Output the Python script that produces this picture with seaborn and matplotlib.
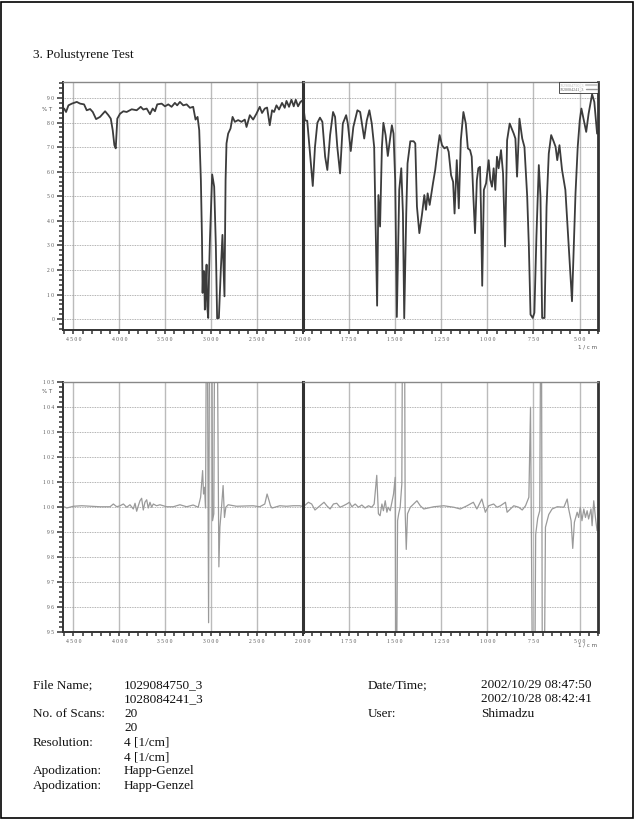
import matplotlib
matplotlib.use("Agg")
import matplotlib.pyplot as plt
from matplotlib.lines import Line2D
from matplotlib.patches import Rectangle
from matplotlib.ticker import FixedLocator, MultipleLocator, FuncFormatter
import seaborn as sns

title = "3. Polustyrene Test"
sample_names = ["1029084750_3", "1028084241_3"]

# upper trace: sample spectrum (%T vs 1/cm)
upper_wn = [4601, 4580, 4554, 4517, 4463, 4427, 4384, 4355, 4318, 4289, 4253, 4210, 4155, 4119,
            4093, 4072, 4054, 4039, 4022, 3992, 3956, 3920, 3865, 3811, 3767, 3739, 3702, 3666,
            3637, 3612, 3587, 3539, 3503, 3467, 3431, 3395, 3370, 3340, 3304, 3267, 3231, 3196,
            3170, 3148, 3130, 3112, 3100, 3093, 3087, 3076, 3069, 3061, 3050, 3043, 3032, 3022,
            3014, 2989, 2967, 2949, 2935, 2916, 2895, 2877, 2855, 2843, 2833, 2815, 2789, 2767,
            2742, 2706, 2670, 2634, 2615, 2579, 2543, 2507, 2471, 2446, 2416, 2391, 2362, 2337,
            2315, 2289, 2261, 2228, 2199, 2180, 2152, 2126, 2101, 2079, 2054, 2028, 2007, 2000,
            1998, 1989, 1977, 1962, 1947, 1935, 1922, 1908, 1895, 1880, 1868, 1853, 1837, 1826,
            1814, 1799, 1784, 1766, 1757, 1741, 1727, 1705, 1690, 1668, 1654, 1640, 1627, 1614,
            1604, 1598, 1591, 1582, 1572, 1564, 1552, 1540, 1531, 1518, 1509, 1500, 1491, 1478,
            1467, 1458, 1451, 1440, 1433, 1418, 1400, 1391, 1382, 1369, 1355, 1342, 1333, 1324,
            1313, 1295, 1283, 1270, 1259, 1246, 1233, 1219, 1210, 1197, 1186, 1178, 1166, 1155,
            1144, 1130, 1117, 1106, 1094, 1085, 1076, 1067, 1057, 1049, 1040, 1035, 1028, 1019,
            1007, 993, 984, 975, 966, 957, 948, 939, 926, 915, 904, 893, 879, 857, 848, 839, 826,
            811, 799, 784, 775, 766, 754, 745, 734, 721, 712, 703, 690, 679, 667, 654, 640, 630,
            621, 609, 595, 577, 559, 541, 522, 510, 499, 490, 477, 464, 451, 432, 420, 405]
upper_t = [85.7, 84.3, 87.0, 87.7, 88.4, 87.7, 87.4, 85.0, 85.5, 84.3, 81.4, 82.3, 84.6, 83.0,
           81.6, 76.9, 70.8, 69.5, 81.6, 83.6, 84.6, 84.3, 85.4, 85.0, 86.4, 85.3, 85.7, 83.4,
           85.7, 84.6, 87.4, 87.7, 86.6, 87.4, 86.4, 88.0, 87.0, 88.4, 87.0, 87.4, 86.0, 86.4,
           81.2, 82.3, 76.9, 56.6, 33.0, 10.7, 19.5, 19.5, 3.9, 10.7, 22.2, 5.3, 0.5, 20.1,
           31.6, 58.9, 53.9, 30.0, 0.3, 0.5, 20.0, 34.3, 9.3, 56.6, 71.5, 75.5, 77.6, 82.3,
           80.3, 81.0, 80.3, 81.2, 78.2, 83.0, 81.2, 83.6, 86.4, 83.9, 85.7, 86.1, 78.9, 85.0,
           84.3, 87.0, 85.3, 88.0, 86.0, 88.8, 86.4, 89.3, 86.6, 89.3, 86.6, 88.4, 89.0, 87.5,
           86.4, 80.9, 80.7, 67.4, 54.2, 70.1, 79.9, 82.0, 80.3, 66.1, 60.7, 74.9, 84.3, 82.3,
           70.1, 59.3, 79.6, 83.0, 79.6, 68.4, 78.2, 85.0, 84.3, 73.5, 80.9, 85.0, 79.6, 70.1,
           29.6, 5.5, 50.5, 37.7, 70.1, 79.9, 74.9, 66.4, 71.5, 78.9, 75.5, 56.6, 0.9, 52.6,
           61.4, 43.0, 0.4, 43.0, 63.4, 72.4, 72.4, 71.5, 45.8, 35.0, 42.4, 50.5, 44.5, 51.2,
           46.5, 55.3, 60.7, 68.8, 74.9, 70.8, 69.5, 70.1, 68.1, 58.6, 55.9, 43.0, 64.7, 45.1,
           72.8, 84.3, 79.6, 69.5, 68.8, 66.1, 49.9, 35.0, 56.6, 61.4, 62.0, 45.8, 13.6, 52.6,
           55.3, 64.7, 56.6, 53.9, 61.4, 52.6, 66.1, 61.4, 68.8, 59.3, 29.6, 72.8, 79.6, 75.5,
           73.5, 58.0, 81.6, 73.5, 70.1, 49.9, 29.6, 1.9, 0.5, 2.6, 33.6, 62.7, 49.9, 0.5, 0.5,
           45.8, 67.4, 74.9, 72.2, 70.1, 64.7, 70.8, 60.7, 52.6, 29.6, 7.3, 51.2, 70.1, 80.9,
           85.7, 80.9, 76.2, 83.6, 91.5, 88.4, 75.5]

# lower trace: ratio of the two scans (%T), off-scale spikes run past the frame
lower_wn = [4601, 4572, 4500, 4409, 4318, 4210, 4101, 4065, 4028, 3992, 3956, 3920, 3884, 3848,
            3829, 3811, 3793, 3775, 3757, 3739, 3721, 3702, 3685, 3666, 3648, 3630, 3594, 3558,
            3522, 3485, 3413, 3340, 3267, 3196, 3141, 3115, 3093, 3083, 3072, 3061, 3047, 3028,
            3014, 2996, 2985, 2971, 2957, 2942, 2916, 2905, 2887, 2870, 2855, 2840, 2815, 2724,
            2543, 2471, 2416, 2391, 2369, 2354, 2337, 2307, 2253, 2180, 2108, 2036, 2000,
            1998, 1971, 1953, 1935, 1908, 1886, 1871, 1853, 1835, 1817, 1799, 1781, 1763, 1748,
            1735, 1717, 1699, 1681, 1663, 1645, 1627, 1614, 1600, 1591, 1582, 1572, 1564, 1554,
            1545, 1538, 1527, 1518, 1509, 1500, 1495, 1487, 1481, 1473, 1464, 1458, 1451, 1446,
            1440, 1433, 1418, 1400, 1382, 1364, 1345, 1291, 1237, 1182, 1147, 1110, 1076, 1057,
            1030, 1011, 993, 966, 948, 929, 902, 893, 875, 857, 830, 811, 793, 775, 766, 753,
            745, 738, 727, 716, 708, 701, 694, 685, 667, 649, 621, 585, 567, 559, 546, 537, 528,
            513, 505, 496, 487, 477, 468, 459, 451, 438, 432, 423, 414, 405]
lower_t = [100.01, 99.96, 100.03, 100.05, 100.03, 100.01, 100.01, 100.12, 100.01, 100.05, 100.12,
           99.99, 100.09, 99.92, 100.15, 99.83, 100.05, 100.25, 100.35, 99.88, 100.19, 100.29,
           99.96, 100.19, 99.99, 100.12, 100.05, 100.09, 100.05, 100.01, 100.01, 100.09, 100.01,
           100.08, 99.99, 100.39, 101.46, 100.52, 100.79, 99.96, 112.0, 95.36, 112.0, 112.0,
           99.45, 99.73, 112.0, 112.0, 97.6, 99.19, 99.99, 100.86, 99.58, 99.99, 100.09, 100.03,
           100.05, 100.01, 100.12, 100.52, 100.25, 100.05, 99.96, 99.99, 100.05, 100.03, 100.05,
           100.05, 100.02,
           100.01, 100.19, 100.12, 99.88, 100.05, 100.19, 100.05, 99.92, 100.12, 100.15, 99.99,
           100.05, 100.12, 100.19, 100.01, 100.12, 99.99, 100.08, 99.96, 100.05, 99.99, 100.12,
           101.27, 99.73, 99.65, 100.12, 99.85, 100.25, 99.79, 99.99, 99.85, 100.19, 100.52,
           101.19, 90.0, 99.45, 99.73, 99.99, 100.92, 112.0, 112.0, 99.85, 98.3, 99.73, 99.99,
           100.12, 100.25, 100.05, 99.92, 100.01, 100.05, 99.99, 99.92, 100.05, 100.19, 99.92,
           100.32, 99.79, 100.05, 100.12, 99.99, 100.05, 100.19, 99.79, 99.92, 100.05, 99.99,
           99.88, 100.05, 100.39, 104.0, 90.0, 90.0, 98.9, 99.55, 99.85, 112.0, 90.0, 90.0,
           99.19, 99.7, 99.92, 100.01, 99.99, 100.32, 99.92, 99.45, 98.34, 99.39, 99.79, 99.58,
           99.99, 99.45, 99.92, 99.58, 99.85, 99.52, 99.92, 99.25, 100.25, 99.58, 99.05]

left_ticks = [4500, 4000, 3500, 3000, 2500, 2000]
right_ticks = [1750, 1500, 1250, 1000, 750, 500]
upper_yticks = [0, 10, 20, 30, 40, 50, 60, 70, 80, 90]
lower_yticks = [95, 96, 97, 98, 99, 100, 101, 102, 103, 104, 105]

info_left = [("File Name;", "1029084750_3"), ("", "1028084241_3"),
             ("No. of Scans:", "20"), ("", "20"),
             ("Resolution:", "4 [1/cm]"), ("", "4 [1/cm]"),
             ("Apodization:", "Happ-Genzel"), ("Apodization:", "Happ-Genzel")]
info_right = [("Date/Time;", "2002/10/29 08:47:50"), ("", "2002/10/28 08:42:41"),
              ("User:", "Shimadzu")]

sns.set_theme(style="white")
plt.rcParams["font.family"] = ["Liberation Serif", "DejaVu Serif"]

W, H = 634, 819
fig = plt.figure(figsize=(W / 100, H / 100), dpi=100)


def box(x0, x1, y0, y1):
    return [x0 / W, 1 - y1 / H, (x1 - x0) / W, (y1 - y0) / H]


def spaced(v, pos=None):
    return " ".join(f"{v:.0f}")


def draw_panel(y0, y1, wn, t, ylim, yticks, yminor, color, lw):
    ax_l = fig.add_axes(box(63.3, 303, y0, y1))
    ax_r = fig.add_axes(box(303, 598, y0, y1), sharey=ax_l)
    for ax, xlim, ticks, minor in ((ax_l, (4610, 2000), left_ticks, 100),
                                   (ax_r, (2000, 400), right_ticks, 50)):
        ax.set_facecolor("none")
        ax.set_axisbelow(True)
        sns.lineplot(x=wn, y=t, ax=ax, sort=False, estimator=None,
                     color=color, linewidth=lw)
        ax.set_xlim(*xlim)
        ax.set_ylim(*ylim)
        ax.xaxis.set_major_locator(FixedLocator(ticks))
        ax.xaxis.set_minor_locator(MultipleLocator(minor))
        ax.xaxis.set_major_formatter(FuncFormatter(spaced))
        ax.grid(axis="x", color="#bbbbbb", linestyle="-", linewidth=1.0)
        ax.grid(axis="y", color="#999999", linestyle=(0, (1, 1)), linewidth=0.6)
        ax.set_xlabel("")
        ax.set_ylabel("")
        ax.tick_params(axis="x", which="both", direction="out", length=3, width=1.1,
                       color="#333333", labelsize=4, labelcolor="#555555", pad=2,
                       bottom=True)
        ax.spines["top"].set_color("#888888")
        ax.spines["top"].set_linewidth(1.0)
        ax.spines["bottom"].set_color("#333333")
        ax.spines["bottom"].set_linewidth(1.4)
        ax.spines["right"].set_color("#333333")
        ax.spines["right"].set_linewidth(2.0)
    ax_l.spines["right"].set_visible(False)
    ax_r.spines["left"].set_color("#333333")
    ax_r.spines["left"].set_linewidth(2.2)
    ax_l.spines["left"].set_color("#333333")
    ax_l.spines["left"].set_linewidth(1.4)
    ax_l.yaxis.set_major_locator(FixedLocator(yticks))
    ax_l.yaxis.set_minor_locator(MultipleLocator(yminor))
    ax_l.yaxis.set_major_formatter(FuncFormatter(spaced))
    ax_l.tick_params(axis="y", which="major", direction="out", length=4.5, width=1.1,
                     color="#333333", labelsize=4, labelcolor="#555555", pad=2, left=True)
    ax_l.tick_params(axis="y", which="minor", direction="out", length=3, width=1.1,
                     color="#333333", left=True)
    ax_r.tick_params(axis="y", which="both", left=False, labelleft=False)
    return ax_l, ax_r


top_l, top_r = draw_panel(82, 330, upper_wn, upper_t, (-4.4, 96.5), upper_yticks, 2,
                          "#3c3c3c", 1.3)
bot_l, bot_r = draw_panel(382.3, 631.7, lower_wn, lower_t, (95, 105), lower_yticks, 0.2,
                          "#9a9a9a", 0.9)

for ax, ypos in ((top_l, 85.2), (bot_l, 104.62)):
    ax.text(-0.067, ypos, "% T", transform=ax.get_yaxis_transform(), ha="center",
            va="center", fontsize=4, color="#555555", family="DejaVu Sans")

fig.text(588 / W, 1 - 347 / H, "1 / c m", fontsize=4, color="#555555", ha="center",
         va="center", family="DejaVu Sans")
fig.text(588 / W, 1 - 645 / H, "1 / c m", fontsize=4, color="#555555", ha="center",
         va="center", family="DejaVu Sans")

handles = [Line2D([], [], color="#cccccc", linewidth=1.5),
           Line2D([], [], color="#9a9a9a", linewidth=1.0)]
leg = top_r.legend(handles, sample_names, loc="upper right", fontsize=3, frameon=True,
                   fancybox=False, markerfirst=False, borderpad=0.2, labelspacing=0.1,
                   handlelength=2.5, handletextpad=0.5, borderaxespad=0.1)
leg.get_frame().set_edgecolor("#222222")
leg.get_frame().set_linewidth(0.7)
leg.get_texts()[0].set_color("#bbbbbb")
leg.get_texts()[1].set_color("#666666")

fig.text(33 / W, 1 - 55 / H, title, fontsize=9.5, ha="left", va="center", color="#111111")

row_h = 14.4
for i, (label, value) in enumerate(info_left):
    y = 1 - (685 + i * row_h) / H
    fig.text(33 / W, y, label, fontsize=9.5, ha="left", va="center", color="#111111")
    fig.text(124 / W, y, value, fontsize=9.5, ha="left", va="center", color="#111111")
for i, (label, value) in enumerate(info_right):
    y = 1 - (685 + i * row_h) / H
    fig.text(368 / W, y, label, fontsize=9.5, ha="left", va="center", color="#111111")
    fig.text(481 / W, y, value, fontsize=9.5, ha="left", va="center", color="#111111")

fig.add_artist(Rectangle((1 / W, 1 / H), 1 - 2.5 / W, 1 - 2.5 / H, transform=fig.transFigure,
                         fill=False, edgecolor="black", linewidth=1.2))

fig.savefig("out.png", dpi=100)
